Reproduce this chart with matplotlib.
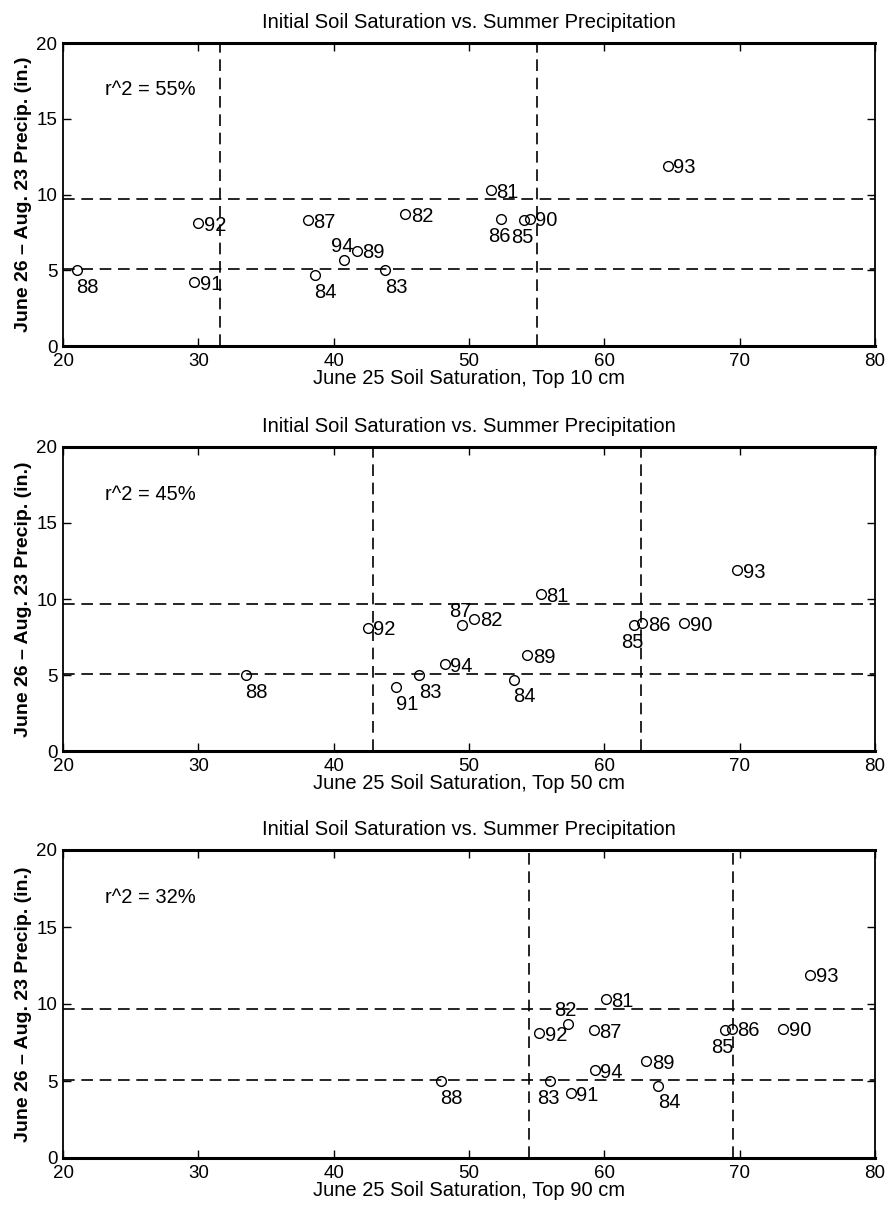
import numpy as np
import matplotlib
matplotlib.use('Agg')
import matplotlib.pyplot as plt

plt.rcParams['font.family'] = ['Liberation Sans', 'DejaVu Sans']

# ---- data ----
years = ['81', '82', '83', '84', '85', '86', '87', '88', '89', '90', '91', '92', '93', '94']
precip = [10.3, 8.7, 5.0, 4.7, 8.3, 8.4, 8.3, 5.0, 6.3, 8.4, 4.2, 8.1, 11.9, 5.7]

sat_10cm = [51.6, 45.3, 43.8, 38.6, 54.1, 52.4, 38.1, 21.0, 41.7, 54.5, 29.7, 30.0, 64.7, 40.8]
sat_50cm = [55.3, 50.4, 46.3, 53.3, 62.2, 62.8, 49.5, 33.5, 54.3, 65.9, 44.6, 42.5, 69.8, 48.2]
sat_90cm = [60.1, 57.3, 56.0, 64.0, 68.9, 69.4, 59.2, 47.9, 63.1, 73.2, 57.5, 55.2, 75.2, 59.3]

depths = ['10', '50', '90']
r2_values = ['55%', '45%', '32%']
vlines_10 = [31.6, 55.0]
vlines_50 = [42.9, 62.7]
vlines_90 = [54.4, 69.5]
hlines = [9.7, 5.08]

# label placement per panel (r=right, b=below, bl=below-left, a=above)
place_10 = {'88': 'b', '84': 'b', '83': 'b', '94': 'a', '86': 'bl', '85': 'bl'}
place_50 = {'88': 'b', '91': 'b', '83': 'b', '84': 'b', '87': 'a', '85': 'bl'}
place_90 = {'88': 'b', '84': 'b', '83': 'bl', '82': 'a', '85': 'bl'}

offsets = {'r': (4.0, -1.5, 'left'),
           'b': (8.0, -12.5, 'center'),
           'bl': (-1.5, -12.5, 'center'),
           'a': (-1.5, 9.5, 'center')}

panels = [(sat_10cm, vlines_10, place_10), (sat_50cm, vlines_50, place_50), (sat_90cm, vlines_90, place_90)]
rects = [[63 / 890, 1 - 346 / 1208, 812 / 890, 303 / 1208],
         [63 / 890, 1 - 751 / 1208, 812 / 890, 304 / 1208],
         [63 / 890, 1 - 1158 / 1208, 812 / 890, 308 / 1208]]

fs = 14.5

fig = plt.figure(figsize=(8.9, 12.08), dpi=100, facecolor='w')

for i, (sat, vl, place) in enumerate(panels):
    ax = fig.add_axes(rects[i])
    ax.plot(sat, precip, linestyle='none', marker='o', markersize=7,
            markerfacecolor='none', markeredgecolor='k', markeredgewidth=1.0)
    for x in vl:
        ax.axvline(x, color='k', linestyle=(0, (7, 4)), linewidth=1.2)
    for y in hlines:
        ax.axhline(y, color='k', linestyle=(0, (7, 4)), linewidth=1.2)
    for yr, x, y in zip(years, sat, precip):
        dx, dy, ha = offsets[place.get(yr, 'r')]
        ax.annotate(yr, (x, y), xytext=(dx, dy), textcoords='offset points',
                    ha=ha, va='center', fontsize=fs)
    ax.text(23.1, 16.9, 'r^2 = ' + r2_values[i], fontsize=fs, va='center')

    ax.set_xlim(20, 80)
    ax.set_ylim(0, 20)
    ax.set_xticks(np.arange(20, 81, 10))
    ax.set_yticks(np.arange(0, 21, 5))
    ax.tick_params(direction='in', top=True, right=True, length=6, width=1,
                   labelsize=13.5)
    ax.tick_params(axis='x', pad=5)
    ax.tick_params(axis='y', pad=4)
    for s in ['top', 'bottom']:
        ax.spines[s].set_linewidth(2.2)
    for s in ['left', 'right']:
        ax.spines[s].set_linewidth(1.3)
    ax.set_title('Initial Soil Saturation vs. Summer Precipitation', fontsize=fs, pad=11)
    ax.set_xlabel('June 25 Soil Saturation, Top %s cm' % depths[i], fontsize=fs, labelpad=-1)
    ax.set_ylabel('June 26 \u2013 Aug. 23 Precip. (in.)', fontsize=14,
                  fontweight='bold', labelpad=3)

plt.savefig('out.png', dpi=100, facecolor='w')
plt.close()
